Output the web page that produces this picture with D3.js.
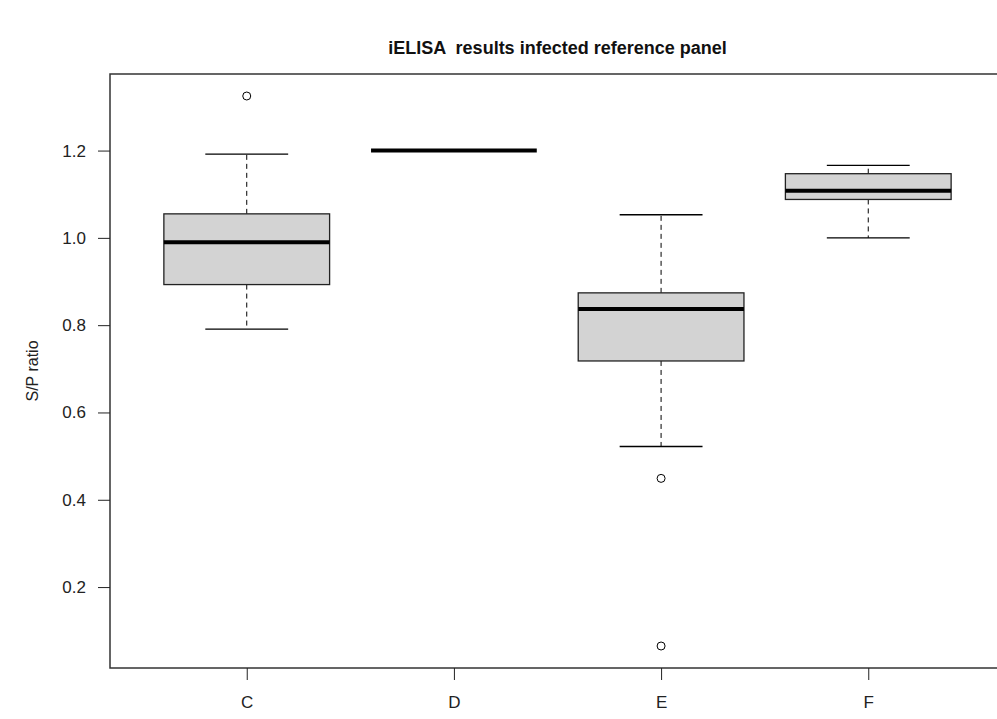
<!DOCTYPE html>
<html>
<head>
<meta charset="utf-8">
<script src="https://cdn.jsdelivr.net/npm/d3@7"></script>
<style>
  body { margin: 0; background: #fff; }
  svg { display: block; font-family: "Liberation Sans", Arial, sans-serif; }
</style>
</head>
<body>
<svg id="chart" width="997" height="719"></svg>
<script>
// Box-plot summary statistics per group
const categories   = ["C", "D", "E", "F"];
const whiskerLow   = [0.791, 1.200, 0.522, 1.000];
const q1           = [0.893, 1.200, 0.718, 1.088];
const medians      = [0.990, 1.200, 0.837, 1.108];
const q3           = [1.055, 1.200, 0.874, 1.147];
const whiskerHigh  = [1.192, 1.200, 1.053, 1.166];
const outliers     = [[1.325], [], [0.449, 0.065], []];
const yTicks       = [0.2, 0.4, 0.6, 0.8, 1.0, 1.2];

const titleText = "iELISA  results infected reference panel";
const yLabel = "S/P ratio";

const svg = d3.select("#chart");
const plot = { left: 110, right: 1005, top: 74, bottom: 668 };

// y range padded by 4% on each side of the data extent
const allVals = whiskerLow.concat(whiskerHigh, outliers.flat());
const lo = d3.min(allVals), hi = d3.max(allVals);
const pad = (hi - lo) * 0.04;
const y = d3.scaleLinear().domain([lo - pad, hi + pad]).range([plot.bottom, plot.top]);

// groups at integer positions, half-unit margin plus 4% extension
const x = d3.scalePoint().domain(categories).range([plot.left, plot.right]).padding(0.66);
const unit = x.step();
const boxW = unit * 0.8;
const capW = boxW * 0.5;

const g = svg.append("g");

categories.forEach((c, i) => {
  const cx = x(c);
  const grp = g.append("g");
  // whiskers (dashed)
  grp.append("line").attr("x1", cx).attr("x2", cx)
    .attr("y1", y(q3[i])).attr("y2", y(whiskerHigh[i]))
    .attr("stroke", "#000").attr("stroke-width", 1).attr("stroke-dasharray", "5,4");
  grp.append("line").attr("x1", cx).attr("x2", cx)
    .attr("y1", y(q1[i])).attr("y2", y(whiskerLow[i]))
    .attr("stroke", "#000").attr("stroke-width", 1).attr("stroke-dasharray", "5,4");
  // caps
  [whiskerHigh[i], whiskerLow[i]].forEach(v => {
    grp.append("line").attr("x1", cx - capW / 2).attr("x2", cx + capW / 2)
      .attr("y1", y(v)).attr("y2", y(v))
      .attr("stroke", "#000").attr("stroke-width", 1.3);
  });
  // box
  grp.append("rect")
    .attr("x", cx - boxW / 2).attr("width", boxW)
    .attr("y", y(q3[i])).attr("height", y(q1[i]) - y(q3[i]))
    .attr("fill", "#d3d3d3").attr("stroke", "#222").attr("stroke-width", 1.3);
  // median
  grp.append("line").attr("x1", cx - boxW / 2).attr("x2", cx + boxW / 2)
    .attr("y1", y(medians[i])).attr("y2", y(medians[i]))
    .attr("stroke", "#000").attr("stroke-width", 4);
  // outliers
  outliers[i].forEach(v => {
    grp.append("circle").attr("cx", cx).attr("cy", y(v)).attr("r", 4)
      .attr("fill", "none").attr("stroke", "#000").attr("stroke-width", 1);
  });
});

// frame
svg.append("rect")
  .attr("x", plot.left).attr("y", plot.top)
  .attr("width", plot.right - plot.left).attr("height", plot.bottom - plot.top)
  .attr("fill", "none").attr("stroke", "#333").attr("stroke-width", 1.5);

// axes
const yAxis = svg.append("g").attr("transform", `translate(${plot.left},0)`)
  .call(d3.axisLeft(y).tickValues(yTicks).tickFormat(d3.format(".1f")).tickSize(12).tickPadding(12));
const xAxis = svg.append("g").attr("transform", `translate(0,${plot.bottom})`)
  .call(d3.axisBottom(x).tickSize(12).tickPadding(16));
[yAxis, xAxis].forEach(a => {
  a.select(".domain").remove();
  a.selectAll(".tick line").attr("stroke", "#222");
  a.selectAll(".tick text").attr("font-size", 17).attr("fill", "#222")
    .attr("font-family", "Liberation Sans, Arial, sans-serif");
});

// title
svg.append("text").attr("x", (plot.left + plot.right) / 2).attr("y", 54)
  .attr("text-anchor", "middle").attr("font-size", 18).attr("font-weight", "bold")
  .attr("fill", "#111").style("white-space", "pre").text(titleText);

// y label
svg.append("text")
  .attr("transform", `translate(38,${(plot.top + plot.bottom) / 2}) rotate(-90)`)
  .attr("text-anchor", "middle").attr("font-size", 16).attr("fill", "#222")
  .text(yLabel);
</script>
</body>
</html>
